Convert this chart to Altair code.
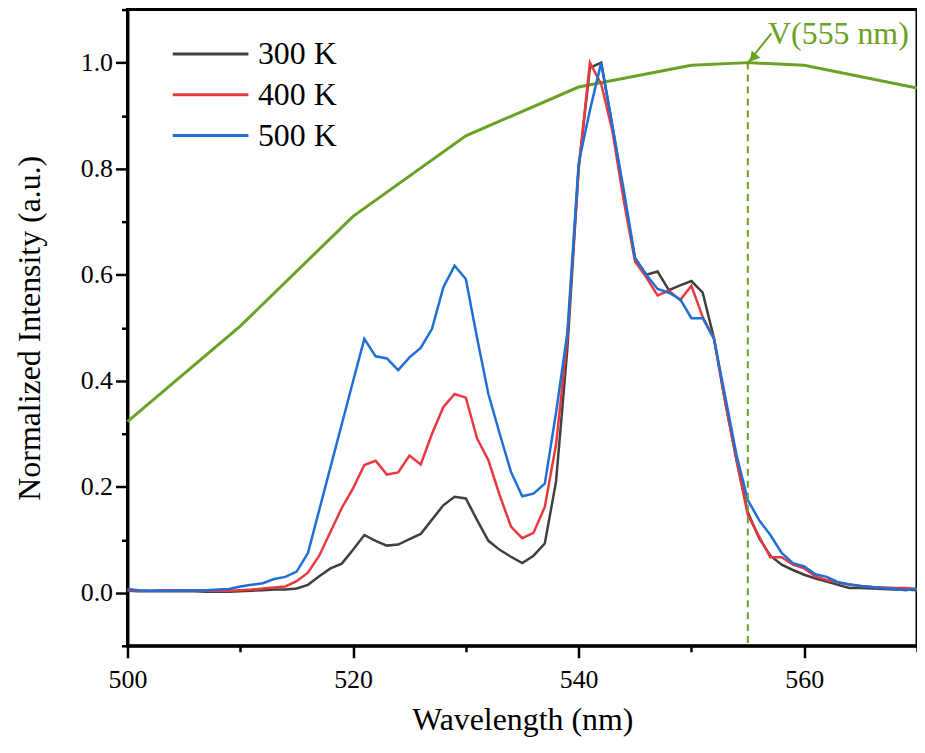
import altair as alt
import pandas as pd

FONT = "Liberation Serif"

wavelength = list(range(500, 571))
series_names = ["300 K", "400 K", "500 K"]
series_colors = ["#404040", "#e8393e", "#1f6fd4"]

i_300K = [0.004, 0.003, 0.003, 0.003, 0.003, 0.003, 0.003, 0.002, 0.002, 0.002, 0.003, 0.004, 0.005,
          0.006, 0.006, 0.008, 0.015, 0.031, 0.046, 0.055, 0.081,
          0.109, 0.098, 0.089, 0.091, 0.101, 0.111, 0.138, 0.165, 0.181, 0.178,
          0.137, 0.098, 0.081, 0.068, 0.056, 0.070, 0.093, 0.21, 0.46, 0.80,
          0.99, 1.0, 0.88, 0.75, 0.63, 0.60, 0.606, 0.571, 0.58, 0.588,
          0.566, 0.48, 0.36, 0.25, 0.152, 0.103, 0.07, 0.053, 0.043, 0.034,
          0.027, 0.021, 0.015, 0.009, 0.009, 0.008, 0.007, 0.006, 0.006, 0.005]
i_400K = [0.005, 0.004, 0.004, 0.005, 0.005, 0.005, 0.005, 0.004, 0.004, 0.004, 0.005, 0.006, 0.008,
          0.010, 0.012, 0.022, 0.038, 0.070, 0.115, 0.160, 0.197,
          0.241, 0.249, 0.223, 0.227, 0.259, 0.242, 0.30, 0.35, 0.375, 0.368,
          0.291, 0.25, 0.184, 0.125, 0.103, 0.113, 0.162, 0.28, 0.48, 0.80,
          1.0, 0.96, 0.87, 0.74, 0.625, 0.595, 0.561, 0.57, 0.552, 0.579,
          0.52, 0.48, 0.36, 0.25, 0.147, 0.106, 0.067, 0.067, 0.053, 0.046,
          0.031, 0.024, 0.02, 0.015, 0.013, 0.011, 0.01, 0.009, 0.009, 0.007]
i_500K = [0.007, 0.005, 0.004, 0.004, 0.004, 0.005, 0.005, 0.005, 0.006, 0.007, 0.012, 0.015, 0.018,
          0.026, 0.030, 0.040, 0.075, 0.156, 0.237, 0.318, 0.399,
          0.479, 0.446, 0.442, 0.42, 0.444, 0.462, 0.498, 0.576, 0.617, 0.592,
          0.48, 0.375, 0.30, 0.228, 0.182, 0.187, 0.206, 0.34, 0.49, 0.81,
          0.91, 1.0, 0.88, 0.76, 0.632, 0.60, 0.573, 0.566, 0.554, 0.518,
          0.518, 0.479, 0.37, 0.26, 0.175, 0.137, 0.109, 0.075, 0.056, 0.05,
          0.035, 0.03, 0.02, 0.016, 0.013, 0.011, 0.009, 0.007, 0.005, 0.008]

# photopic luminosity function V(lambda)
v_wavelength = [500, 510, 520, 530, 540, 550, 555, 560, 570]
v_value = [0.323, 0.503, 0.710, 0.862, 0.954, 0.995, 1.000, 0.995, 0.952]

marker_wl = [555]
marker_top = [1.0]
marker_bottom = [-0.1]

annot_text = ["V(555 nm)"]
annot_x = [556.8]
annot_y = [1.036]
arrow_tail = (557.1, 1.055)
arrow_head = (555.0, 1.0)
arrowhead_pos = (555.45, 1.009)

x_major = [500, 520, 540, 560]
x_minor = [510, 530, 550, 570]
y_major = [0.0, 0.2, 0.4, 0.6, 0.8, 1.0]
y_minor = [-0.1, 0.1, 0.3, 0.5, 0.7, 0.9, 1.1]

GREEN = "#6ba124"

rows = []
for name, vals in zip(series_names, [i_300K, i_400K, i_500K]):
    for w, v in zip(wavelength, vals):
        rows.append({"wl": w, "I": v, "series": name})
spec_df = pd.DataFrame(rows)
v_df = pd.DataFrame({"wl": v_wavelength, "I": v_value})
rule_df = pd.DataFrame({"wl": marker_wl, "top": marker_top, "bottom": marker_bottom})
text_df = pd.DataFrame({"wl": annot_x, "I": annot_y, "t": annot_text})
arrow_df = pd.DataFrame({"x1": [arrow_tail[0]], "y1": [arrow_tail[1]],
                         "x2": [arrow_head[0]], "y2": [arrow_head[1]]})
head_df = pd.DataFrame({"wl": [arrowhead_pos[0]], "I": [arrowhead_pos[1]]})

xs = alt.Scale(domain=[500, 570], nice=False, zero=False)
ys = alt.Scale(domain=[-0.1, 1.1], nice=False, zero=False)

major_x_axis = alt.Axis(values=x_major, format="d", tickSize=12, labelFontSize=26,
                        labelPadding=9, labelFlush=False, title="Wavelength (nm)",
                        titleFontSize=32, titlePadding=12, orient="bottom", offset=0, grid=False)
major_y_axis = alt.Axis(values=y_major, format=".1f", tickSize=12, labelFontSize=26,
                        labelPadding=3, labelFlush=False, title="Normalized Intensity (a.u.)",
                        titleFontSize=32, titlePadding=34, orient="left", offset=0, grid=False)
minor_x_axis = alt.Axis(values=x_minor, tickSize=6, labels=False, title="", domain=False,
                        orient="bottom", offset=0, grid=False)
minor_y_axis = alt.Axis(values=y_minor, tickSize=6, labels=False, title="", domain=False,
                        orient="left", offset=0, grid=False)

lines = alt.Chart(spec_df).mark_line(strokeWidth=2.5).encode(
    x=alt.X("wl:Q", scale=xs, axis=major_x_axis),
    y=alt.Y("I:Q", scale=ys, axis=major_y_axis),
    color=alt.Color("series:N", scale=alt.Scale(domain=series_names, range=series_colors),
                    legend=alt.Legend(title=None, orient="none", legendX=44, legendY=24,
                                      symbolType="stroke", symbolSize=5776, symbolStrokeWidth=3,
                                      labelFontSize=32, labelFont=FONT, labelColor="black",
                                      clipHeight=41, rowPadding=0, padding=0, labelOffset=8)),
    order="wl:Q",
)

vline = alt.Chart(v_df).mark_line(strokeWidth=3, color=GREEN).encode(
    x=alt.X("wl:Q", scale=xs, axis=minor_x_axis),
    y=alt.Y("I:Q", scale=ys, axis=minor_y_axis),
)

rule = alt.Chart(rule_df).mark_rule(color=GREEN, strokeWidth=2, strokeDash=[7, 5]).encode(
    x=alt.X("wl:Q", scale=xs, axis=None),
    y=alt.Y("top:Q", scale=ys, axis=None),
    y2="bottom:Q",
)

arrow = alt.Chart(arrow_df).mark_rule(color=GREEN, strokeWidth=2).encode(
    x=alt.X("x1:Q", scale=xs, axis=None),
    y=alt.Y("y1:Q", scale=ys, axis=None),
    x2="x2:Q",
    y2="y2:Q",
)

head = alt.Chart(head_df).mark_point(shape="triangle-up", filled=True, color=GREEN,
                                     size=130, angle=219.5, opacity=1).encode(
    x=alt.X("wl:Q", scale=xs, axis=None),
    y=alt.Y("I:Q", scale=ys, axis=None),
)

label = alt.Chart(text_df).mark_text(align="left", baseline="alphabetic", font=FONT,
                                     fontSize=32, color=GREEN).encode(
    x=alt.X("wl:Q", scale=xs, axis=None),
    y=alt.Y("I:Q", scale=ys, axis=None),
    text="t:N",
)

chart = alt.layer(vline, lines, rule, arrow, head, label).resolve_axis(
    x="independent", y="independent"
).properties(
    width=793, height=639,
    autosize=alt.AutoSizeParams(type="none"),
    padding={"left": 120, "top": 0, "right": 0, "bottom": 95},
).configure_view(
    stroke="black", strokeWidth=3
).configure_axis(
    domainColor="black", domainWidth=3, tickColor="black", tickWidth=2.5,
    labelColor="black", titleColor="black", labelFont=FONT, titleFont=FONT,
    titleFontWeight="normal", grid=False
)

chart.save("out.html", embed_options={"renderer": "svg", "actions": False})
